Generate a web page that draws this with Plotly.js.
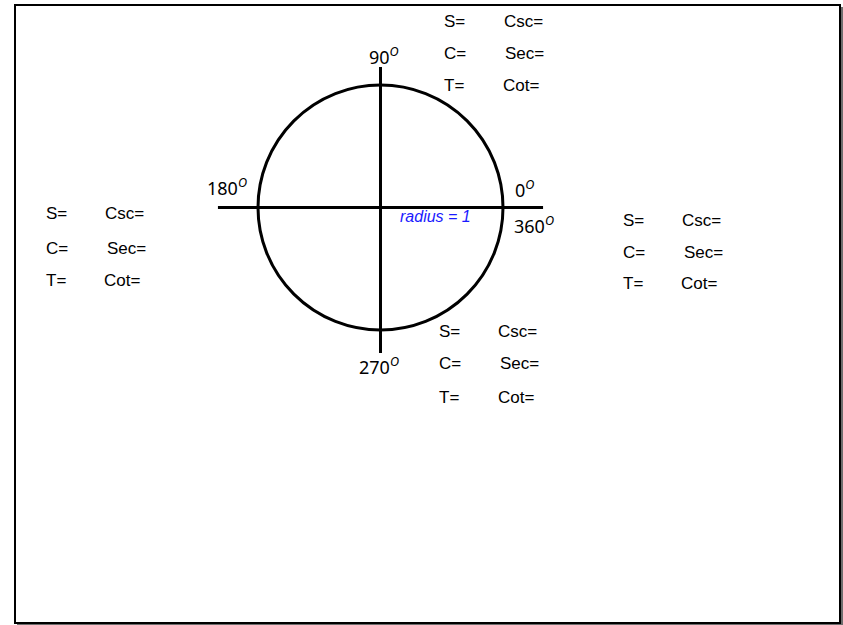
<!DOCTYPE html>
<html>
<head>
<meta charset="utf-8">
<script src="https://cdn.plot.ly/plotly-3.0.1.min.js"></script>
<style>html,body{margin:0;padding:0;background:#fff;}#chart{width:843px;height:625px;}</style>
</head>
<body>
<div id="chart"></div>
<script>
// ---- data ----
var circleRadius = 1;
var axisX = [-1.327, 1.327];        // horizontal axis extent (units of radius)
var axisY = [1.147, -1.188];        // vertical axis extent (units of radius)
var angleLabels = ["90", "180", "0", "360", "270"];
var ratioLeft = ["S=", "C=", "T="];
var ratioRight = ["Csc=", "Sec=", "Cot="];
var radiusLabel = "radius = 1";

// ---- layout helpers (pixel -> unit coords) ----
var CX = 380.5, CY = 207.5, R = 122.5, W = 843, H = 625;
function ux(px) { return (px - CX) / R; }
function uy(py) { return (CY - py) / R; }

var traces = [
  {x: axisX, y: [0, 0], mode: 'lines', line: {color: '#000', width: 3}, hoverinfo: 'skip', showlegend: false},
  {x: [0, 0], y: axisY, mode: 'lines', line: {color: '#000', width: 3}, hoverinfo: 'skip', showlegend: false}
];

var annotations = [];
function addText(txt, px, py, font) {
  annotations.push({text: txt, x: ux(px), y: uy(py), xref: 'x', yref: 'y',
    xanchor: 'left', yanchor: 'middle', showarrow: false, font: font, borderpad: 0});
}
var ratioFont = {family: 'Liberation Sans, Arial, sans-serif', size: 17, color: '#000'};
// groups: [leftColX, rightColX offsets per row, row y's]
var groups = [
  {lx: 443, rx: [503, 504, 502], ys: [21, 53, 85]},
  {lx: 45,  rx: [104, 106, 103], ys: [213, 248, 280]},
  {lx: 622, rx: [681, 683, 680], ys: [220, 252, 283]},
  {lx: 438, rx: [497, 499, 497], ys: [331, 363, 397]}
];
groups.forEach(function (g) {
  for (var i = 0; i < 3; i++) {
    addText(ratioLeft[i], g.lx, g.ys[i], ratioFont);
    addText(ratioRight[i], g.rx[i], g.ys[i], ratioFont);
  }
});
var angleFont = {family: 'Noto Sans, DejaVu Sans, sans-serif', size: 18, color: '#000'};
var anglePos = [[368, 56], [206, 187], [514, 189], [513, 225], [358, 366]];
angleLabels.forEach(function (a, i) {
  addText(a + '<sup><i>O</i></sup>', anglePos[i][0], anglePos[i][1], angleFont);
});
addText('<i>' + radiusLabel + '</i>', 399, 216, {family: 'Liberation Sans, Arial, sans-serif', size: 16, color: '#1a1aff'});

var shapes = [
  {type: 'rect', xref: 'paper', yref: 'paper', x0: 17 / W, x1: 1, y0: 0, y1: 1 - 7 / H,
   fillcolor: '#6e6e6e', line: {width: 0}, layer: 'below'},
  {type: 'rect', xref: 'paper', yref: 'paper', x0: 15 / W, x1: 840 / W, y0: 1 - 623 / H, y1: 1 - 5 / H,
   fillcolor: '#fff', line: {color: '#000', width: 2}, layer: 'below'},
  {type: 'circle', xref: 'x', yref: 'y', x0: -circleRadius, x1: circleRadius, y0: -circleRadius, y1: circleRadius,
   line: {color: '#000', width: 3}, fillcolor: 'rgba(0,0,0,0)'}
];

var layout = {
  width: W, height: H,
  margin: {l: 0, r: 0, t: 0, b: 0, pad: 0},
  paper_bgcolor: '#fff', plot_bgcolor: 'rgba(0,0,0,0)',
  xaxis: {range: [ux(0), ux(W)], visible: false, fixedrange: true},
  yaxis: {range: [uy(H), uy(0)], visible: false, fixedrange: true},
  shapes: shapes,
  annotations: annotations,
  showlegend: false
};
Plotly.newPlot('chart', traces, layout, {staticPlot: true, displayModeBar: false});
</script>
</body>
</html>
